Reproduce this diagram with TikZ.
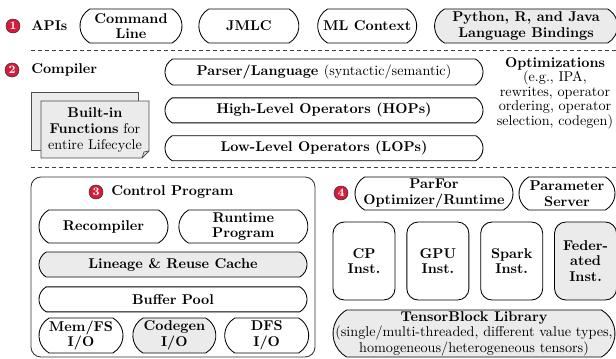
\documentclass[tikz,border=0pt]{standalone}
\usepackage{tikz}
\usetikzlibrary{positioning,shapes.misc}
\newlength\pxu
\setlength\pxu{0.705pt}
\definecolor{boxgray}{RGB}{235,235,235}
\definecolor{numred}{RGB}{214,28,58}

\begin{document}
\begin{tikzpicture}[
    x=\pxu, y=-\pxu,
    pill/.style={rounded rectangle,rounded rectangle arc length=120,draw,line width=0.6pt,inner sep=0pt,align=center,minimum height=34\pxu,font={\fontsize{10}{11}\selectfont\bfseries}},
    tallbox/.style={rectangle,draw,rounded corners=8pt,line width=0.6pt,inner sep=0pt,align=center,minimum width=62\pxu,minimum height=78\pxu,font={\fontsize{10}{11}\selectfont\bfseries}},
    shaded/.style={fill=boxgray},
    numdot/.style={circle,draw=black!80,fill=numred,line width=0.4pt,inner sep=0pt,minimum size=14\pxu,text=white,font=\footnotesize\bfseries},
    lbl/.style={anchor=west,inner sep=0pt,font=\bfseries},
    sep/.style={draw=black!75,line width=0.6pt,dash pattern=on 4\pxu off 3\pxu}]
    \useasboundingbox (0,0) rectangle (616,358);

    % APIs
    \node[numdot] (n1) at (13,26) {1};
    \node[lbl] (apis) at (31,26) {APIs};
    \node[pill,minimum width=102\pxu] (cmdline) at (131,26) {Command\\Line};
    \node[pill,minimum width=100\pxu,right=16\pxu of cmdline] (jmlc) {JMLC};
    \node[pill,minimum width=99\pxu,right=18\pxu of jmlc] (mlctx) {ML Context};
    \node[pill,shaded,minimum width=183\pxu,right=17\pxu of mlctx] (pybind) {Python, R, and Java\\Language Bindings};
    \draw[sep] (31,50) -- (616,50);

    % Compiler
    \node[numdot] (n2) at (12,70) {2};
    \node[lbl] (compiler) at (31,70) {Compiler};
    \node[pill,minimum width=318\pxu,minimum height=26\pxu] (parser) at (324,72) {Parser/Language \mdseries(syntactic/semantic)};
    \node[pill,minimum width=318\pxu,minimum height=25\pxu,below=12\pxu of parser] (hops) {High-Level Operators (HOPs)};
    \node[pill,minimum width=318\pxu,minimum height=25\pxu,below=12\pxu of hops] (lops) {Low-Level Operators (LOPs)};
    \node[align=center,inner sep=0pt,font={\fontsize{10}{8.2}\selectfont}] (optim) at (555,93)
      {\textbf{Optimizations}\\(e.g., IPA,\\rewrites, operator\\ordering, operator\\selection, codegen)};
    \draw[fill=boxgray,draw=black!70,line width=0.6pt] (31,92) rectangle (138,150);
    \draw[fill=boxgray,draw=black!70,line width=0.6pt] (41,101) -- (149,101) -- (149,151) -- (142,158) -- (41,158) -- cycle;
    \draw[draw=black!70,line width=0.5pt] (142,158) -- (144,152) -- (149,151);
    \node[align=center,inner sep=0pt,font={\fontsize{10}{11}\selectfont}] (builtin) at (95,130)
      {\textbf{Built-in}\\\textbf{Functions} for\\entire Lifecycle};
    \draw[sep] (31,167) -- (616,167);

    % control program
    \node[draw=black!80,line width=0.6pt,rounded corners=7pt,minimum width=284\pxu,minimum height=180\pxu] (ctrl) at (173,267) {};
    \node[numdot] (n3) at (96,192) {3};
    \node[lbl] (ctrllbl) at (111,192) {Control Program};
    \node[pill,minimum width=129\pxu,minimum height=33\pxu] (recomp) at (103.5,226.5) {Recompiler};
    \node[pill,minimum width=129\pxu,minimum height=33\pxu,right=10\pxu of recomp] (rtprog) {Runtime\\Program};
    \node[pill,shaded,minimum width=268\pxu,minimum height=25\pxu] (lineage) at (173,264.5) {Lineage \& Reuse Cache};
    \node[pill,minimum width=268\pxu,minimum height=25\pxu,below=9\pxu of lineage] (bufpool) {Buffer Pool};
    \node[pill,minimum width=84\pxu,minimum height=35\pxu] (memfs) at (81,335.5) {Mem/FS\\I/O};
    \node[pill,shaded,minimum width=83\pxu,minimum height=35\pxu,right=9\pxu of memfs] (cgio) {Codegen\\I/O};
    \node[pill,minimum width=84\pxu,minimum height=35\pxu,right=8\pxu of cgio] (dfsio) {DFS\\I/O};

    % runtime
    \node[numdot] (n4) at (341,193) {4};
    \node[pill,minimum width=158\pxu,minimum height=33\pxu] (parfor) at (434,193.5) {ParFor\\Optimizer/Runtime};
    \node[pill,minimum width=96\pxu,minimum height=33\pxu] (paramsrv) at (567,193.5) {Parameter\\Server};
    \node[tallbox] (cpinst) at (364,261) {CP\\Inst.};
    \node[tallbox,right=11\pxu of cpinst] (gpuinst) {GPU\\Inst.};
    \node[tallbox,right=11\pxu of gpuinst] (sparkinst) {Spark\\Inst.};
    \node[tallbox,shaded,right=11\pxu of sparkinst] (fedinst) {Feder-\\ated\\Inst.};
    \node[pill,shaded,minimum width=282\pxu,minimum height=47\pxu,
      label={[align=center,font={\fontsize{10}{11}\selectfont}]center:{\textbf{TensorBlock Library}\\(single/multi-threaded, different value types,\\homogeneous/heterogeneous tensors)}}] (tblib) at (474,333.5) {};
  \end{tikzpicture}
\end{document}
